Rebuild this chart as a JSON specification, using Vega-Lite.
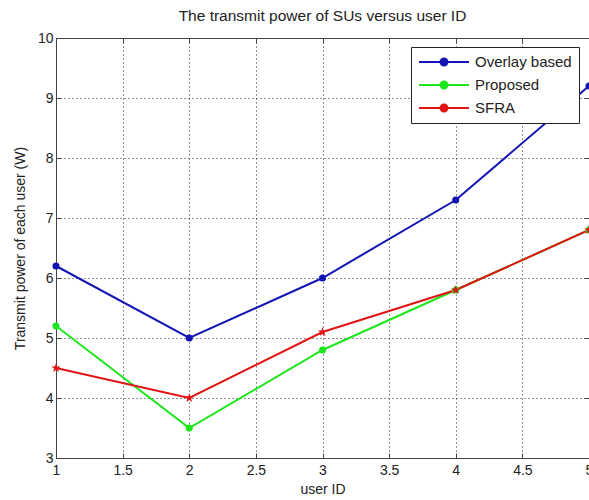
{
  "$schema": "https://vega.github.io/schema/vega-lite/v6.json",
  "width": 533,
  "height": 420,
  "autosize": {"type": "none"},
  "padding": {"left": 56, "top": 38, "right": 0, "bottom": 42},
  "background": "white",
  "title": {"text": "The transmit power of SUs versus user ID", "fontSize": 15.5, "fontWeight": "normal", "font": "Liberation Sans", "color": "#222", "offset": 7, "anchor": "middle"},
  "config": {
    "view": {"stroke": null},
    "axis": {"labelFont": "Liberation Sans", "titleFont": "Liberation Sans", "labelFontSize": 14, "titleFontSize": 14, "titleFontWeight": "normal", "labelColor": "#222", "titleColor": "#222", "domainColor": "#444", "tickColor": "#444", "tickSize": -5, "tickWidth": 1, "gridColor": "#222", "gridDash": [1, 3], "gridOpacity": 1, "gridWidth": 1, "labelFlush": false, "labelOverlap": false},
    "legend": {"orient": "none", "legendX": 355, "legendY": 9, "title": null, "strokeColor": "#222", "fillColor": "white", "padding": 7, "labelFontSize": 15, "labelFont": "Liberation Sans", "labelColor": "#222", "symbolType": "M-1,0H6.14M2.07,0A0.5,0.5 0 1,1 3.07,0A0.5,0.5 0 1,1 2.07,0Z", "symbolSize": 196, "symbolStrokeWidth": 2, "labelOffset": 41, "rowPadding": 7}
  },
  "data": {"values": [
    {"user": 1, "power": 6.2, "series": "Overlay based"},
    {"user": 2, "power": 5.0, "series": "Overlay based"},
    {"user": 3, "power": 6.0, "series": "Overlay based"},
    {"user": 4, "power": 7.3, "series": "Overlay based"},
    {"user": 5, "power": 9.2, "series": "Overlay based"},
    {"user": 1, "power": 5.2, "series": "Proposed"},
    {"user": 2, "power": 3.5, "series": "Proposed"},
    {"user": 3, "power": 4.8, "series": "Proposed"},
    {"user": 4, "power": 5.8, "series": "Proposed"},
    {"user": 5, "power": 6.8, "series": "Proposed"},
    {"user": 1, "power": 4.5, "series": "SFRA"},
    {"user": 2, "power": 4.0, "series": "SFRA"},
    {"user": 3, "power": 5.1, "series": "SFRA"},
    {"user": 4, "power": 5.8, "series": "SFRA"},
    {"user": 5, "power": 6.8, "series": "SFRA"}
  ]},
  "resolve": {"axis": {"x": "independent", "y": "independent"}},
  "layer": [
    {
      "mark": {"type": "line", "strokeWidth": 2},
      "encoding": {
        "x": {"field": "user", "type": "quantitative", "scale": {"domain": [1, 5], "nice": false, "zero": false},
          "axis": {"values": [1, 1.5, 2, 2.5, 3, 3.5, 4, 4.5, 5], "format": "~r", "grid": true, "labelPadding": 10, "title": "user ID", "titlePadding": 5}},
        "y": {"field": "power", "type": "quantitative", "scale": {"domain": [3, 10], "nice": false, "zero": false},
          "axis": {"values": [3, 4, 5, 6, 7, 8, 9, 10], "format": "d", "grid": true, "labelPadding": 8, "title": "Transmit power of each user (W)", "titlePadding": 10}},
        "color": {"field": "series", "type": "nominal", "scale": {"domain": ["Overlay based", "Proposed", "SFRA"], "range": ["#1414b4", "#1ee61e", "#e01414"]},
          "legend": {"symbolType": "M-1,0H6.14M2.07,0A0.5,0.5 0 1,1 3.07,0A0.5,0.5 0 1,1 2.07,0Z", "encode": {"symbols": {"update": {"fill": {"scale": "color", "field": "value"}, "stroke": {"scale": "color", "field": "value"}, "strokeWidth": {"value": 2}, "opacity": {"value": 1}}}}}}
      }
    },
    {
      "transform": [{"filter": "datum.series !== 'SFRA'"}],
      "mark": {"type": "point", "filled": true, "opacity": 1, "size": 50, "shape": "circle"},
      "encoding": {
        "x": {"field": "user", "type": "quantitative", "scale": {"domain": [1, 5], "nice": false, "zero": false}, "axis": null},
        "y": {"field": "power", "type": "quantitative", "scale": {"domain": [3, 10], "nice": false, "zero": false}, "axis": null},
        "color": {"field": "series", "type": "nominal", "scale": {"domain": ["Overlay based", "Proposed", "SFRA"], "range": ["#1414b4", "#1ee61e", "#e01414"]}}
      }
    },
    {
      "transform": [{"filter": "datum.series === 'SFRA'"}],
      "mark": {"type": "point", "filled": true, "opacity": 1, "size": 100, "shape": "M0,-1L0.2245,-0.309L0.951,-0.309L0.363,0.118L0.588,0.809L0,0.382L-0.588,0.809L-0.363,0.118L-0.951,-0.309L-0.2245,-0.309Z"},
      "encoding": {
        "x": {"field": "user", "type": "quantitative", "scale": {"domain": [1, 5], "nice": false, "zero": false}, "axis": null},
        "y": {"field": "power", "type": "quantitative", "scale": {"domain": [3, 10], "nice": false, "zero": false}, "axis": null},
        "color": {"field": "series", "type": "nominal", "scale": {"domain": ["Overlay based", "Proposed", "SFRA"], "range": ["#1414b4", "#1ee61e", "#e01414"]}}
      }
    },
    {
      "mark": {"type": "point", "opacity": 0},
      "encoding": {
        "x": {"field": "user", "type": "quantitative", "scale": {"domain": [1, 5], "nice": false, "zero": false},
          "axis": {"orient": "top", "values": [1, 1.5, 2, 2.5, 3, 3.5, 4, 4.5, 5], "labels": false, "title": null, "grid": false}},
        "y": {"field": "power", "type": "quantitative", "scale": {"domain": [3, 10], "nice": false, "zero": false},
          "axis": {"orient": "right", "values": [3, 4, 5, 6, 7, 8, 9, 10], "labels": false, "title": null, "grid": false}}
      }
    }
  ]
}
